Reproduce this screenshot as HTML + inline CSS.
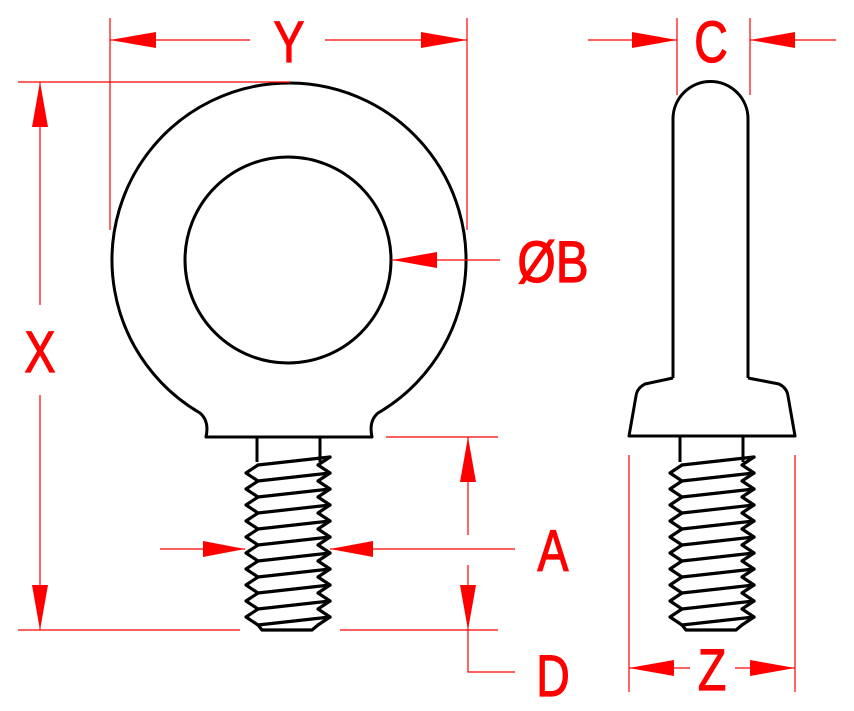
<!DOCTYPE html>
<html><head><style>html,body{margin:0;padding:0;background:#fff}svg{display:block}
text{font-family:"Liberation Sans",sans-serif;fill:#f00;stroke:#f00;stroke-width:1.2;font-size:58px}</style></head>
<body>
<svg id="s" width="854" height="711" viewBox="0 0 854 711" xmlns="http://www.w3.org/2000/svg">
<g fill="none" stroke="#000" stroke-width="3" stroke-linejoin="round">
<path d="M200,413 A177,177 0 1 1 378,413 C371,419 370,428 372,437 L206,437 C208,428 207,419 200,413 Z"/>
<circle cx="288" cy="260" r="103"/>
<path d="M257,437 L257,462 M320,437 L320,462"/>
<path d="M673,378 L673,119 A37,37 0 0 1 748,119 L748,378"/>
<path d="M673,378 L645,384 Q637,388 636,396 L629,436 L795,436 L788,396 Q787,388 779,384 L748,378"/>
<path d="M680,436 L680,462 M743,436 L743,462"/>
</g>
<g id="th" fill="none" stroke="#000" stroke-width="3.2" stroke-linejoin="round" stroke-linecap="round"></g>
<g stroke="#f00" stroke-width="1.2" fill="none">
<path d="M110,18 V230 M467,18 V230 M110,40 H250 M325,40 H467"/>
<path d="M677,18 V95 M750,18 V95 M588,40 H677 M750,40 H836"/>
<path d="M18,82 H290 M18,630 H240 M340,630 H498 M40,82 V305 M40,395 V630"/>
<path d="M392,260 H500"/>
<path d="M160,549 H245 M330,549 H515"/>
<path d="M386,437 H498 M468,437 V535 M468,565 V672 H515"/>
<path d="M629,455 V692 M795,455 V692 M629,668 H690 M735,668 H795"/>
</g>
<g fill="#f00">
<polygon points="110,40 156,32 156,48"/><polygon points="467,40 421,32 421,48"/>
<polygon points="677,40 632,32 632,48"/><polygon points="750,40 795,32 795,48"/>
<polygon points="40,82 32,127 48,127"/><polygon points="40,630 32,585 48,585"/>
<polygon points="392,260 437,252 437,268"/>
<polygon points="245,549 203,541 203,557"/><polygon points="330,549 373,541 373,557"/>
<polygon points="468,437 460,482 476,482"/><polygon points="468,630 460,585 476,585"/>
<polygon points="629,668 674,660 674,676"/><polygon points="795,668 750,660 750,676"/>
</g>
<g>
<text x="289" y="62" text-anchor="middle" transform="translate(289,0) scale(0.8,1) translate(-289,0)">Y</text>
<text x="711" y="62" text-anchor="middle" transform="translate(711,0) scale(0.8,1) translate(-711,0)">C</text>
<text x="40" y="372" text-anchor="middle" transform="translate(40,0) scale(0.8,1) translate(-40,0)">X</text>
<text x="553" y="282" text-anchor="middle" transform="translate(553,0) scale(0.85,1) translate(-553,0)">ØB</text>
<text x="553" y="571" text-anchor="middle" transform="translate(553,0) scale(0.8,1) translate(-553,0)">A</text>
<text x="553" y="696" text-anchor="middle" transform="translate(553,0) scale(0.8,1) translate(-553,0)">D</text>
<text x="712" y="690" text-anchor="middle" transform="translate(712,0) scale(0.8,1) translate(-712,0)">Z</text>
</g>
</svg>
<script>
function thread(L,R,y0,n,p){
 var cL=L-12,cR=R+12,s='';
 var d='M'+L+','+y0;
 for(var i=0;i<n;i++){var y=y0+i*p;d+=' L'+cL+','+(y+p/2)+' L'+L+','+(y+p);}
 var yb=y0+n*p;
 d+=' L'+(L+4)+','+(yb+5)+' L'+(R-6)+','+(yb+5)+' L'+(R)+','+(yb);
 s+='<path d="'+d+'"/>';
 var d2='M'+R+','+yb;
 for(var j=n;j>0;j--){var y=y0+j*p;d2+=' L'+cR+','+(y-p/2)+' L'+R+','+(y-p);}
 d2+=' L'+cR+','+(y0-p/2);
 s+='<path d="'+d2+'"/>';
 s+='<path d="M'+L+','+y0+' L'+cR+','+(y0-p/2)+'"/>';
 for(var k=1;k<=n;k++){var y=y0+k*p;s+='<path d="M'+L+','+y+' L'+cR+','+(y-p/2)+'"/>';}
 return s;
}
document.getElementById('th').innerHTML=thread(258,318,465,10,16)+thread(682,742,465,10,16);
</script>
</body></html>
